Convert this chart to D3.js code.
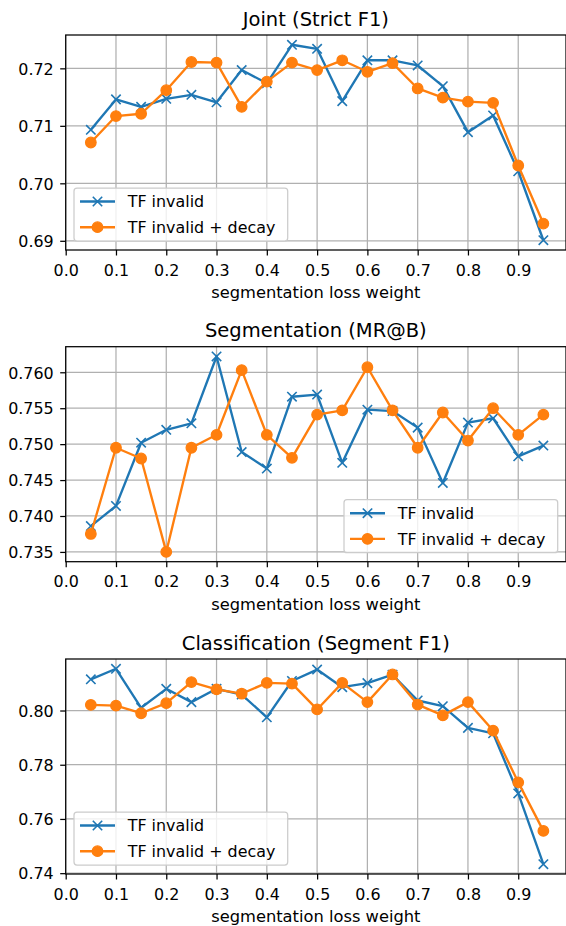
<!DOCTYPE html>
<html>
<head>
<meta charset="utf-8">
<script src="https://cdn.jsdelivr.net/npm/d3@7"></script>
<style>
  body { margin: 0; background: #fff; }
  svg text { font-family: "DejaVu Sans", sans-serif; fill: #000; }
</style>
</head>
<body>
<div id="chart"></div>
<script>
// segmentation loss weights
var weights = [0.05, 0.10, 0.15, 0.20, 0.25, 0.30, 0.35, 0.40, 0.45, 0.50,
               0.55, 0.60, 0.65, 0.70, 0.75, 0.80, 0.85, 0.90, 0.95];
var xTicks = [0.0, 0.1, 0.2, 0.3, 0.4, 0.5, 0.6, 0.7, 0.8, 0.9];
var seriesNames = ["TF invalid", "TF invalid + decay"];

// Joint (Strict F1)
var jointInvalid = [0.7093, 0.7146, 0.7133, 0.7147, 0.7154, 0.7141, 0.7197, 0.7174, 0.7241, 0.7234,
                    0.7143, 0.7214, 0.7214, 0.7205, 0.7169, 0.7089, 0.7118, 0.7021, 0.6901];
var jointDecay   = [0.7071, 0.7117, 0.7121, 0.7162, 0.7211, 0.7210, 0.7133, 0.7177, 0.7210, 0.7197,
                    0.7214, 0.7194, 0.7209, 0.7165, 0.7149, 0.7142, 0.7140, 0.7031, 0.6930];
var jointTicks = [0.69, 0.70, 0.71, 0.72];

// Segmentation (MR@B)
var segInvalid = [0.7386, 0.7414, 0.7502, 0.7520, 0.7529, 0.7622, 0.7489, 0.7466, 0.7566, 0.7569,
                  0.7474, 0.7548, 0.7546, 0.7523, 0.7446, 0.7530, 0.7536, 0.7483, 0.7498];
var segDecay   = [0.7375, 0.7495, 0.7480, 0.7350, 0.7495, 0.7513, 0.7603, 0.7513, 0.7481, 0.7541,
                  0.7547, 0.7607, 0.7547, 0.7495, 0.7544, 0.7505, 0.7550, 0.7513, 0.7541];
var segTicks = [0.735, 0.740, 0.745, 0.750, 0.755, 0.760];

// Classification (Segment F1)
var clsInvalid = [0.8115, 0.8154, 0.8010, 0.8080, 0.8031, 0.8080, 0.8059, 0.7975, 0.8109, 0.8151,
                  0.8086, 0.8101, 0.8132, 0.8037, 0.8016, 0.7936, 0.7916, 0.7694, 0.7433];
var clsDecay   = [0.8021, 0.8018, 0.7990, 0.8027, 0.8105, 0.8078, 0.8062, 0.8102, 0.8099, 0.8004,
                  0.8102, 0.8031, 0.8133, 0.8022, 0.7982, 0.8031, 0.7926, 0.7735, 0.7556];
var clsTicks = [0.74, 0.76, 0.78, 0.80];

var panels = [
    { title: "Joint (Strict F1)", a: jointInvalid, b: jointDecay, ticks: jointTicks, fmt: ".2f", top: 35, legend: "left" },
    { title: "Segmentation (MR@B)", a: segInvalid, b: segDecay, ticks: segTicks, fmt: ".3f", top: 346.7, legend: "right" },
    { title: "Classification (Segment F1)", a: clsInvalid, b: clsDecay, ticks: clsTicks, fmt: ".2f", top: 659, legend: "left" }
];

var width = 566, height = 926;
var left = 65.7, right = 566, plotH = 215;
var blue = "#1f77b4", orange = "#ff7f0e";
var fs = 15.9;

var svg = d3.select("#chart").append("svg")
    .attr("width", width)
    .attr("height", height);

var x = d3.scaleLinear().domain([0, 0.995]).range([left, right]);

var drawMarker = function (g, kind, cx, cy) {
    if (kind === "x") {
        var s = 4.7;
        g.append("path")
            .attr("d", "M" + (cx - s) + "," + (cy - s) + "L" + (cx + s) + "," + (cy + s) +
                       "M" + (cx - s) + "," + (cy + s) + "L" + (cx + s) + "," + (cy - s))
            .attr("stroke", blue).attr("stroke-width", 1.6).attr("fill", "none");
    } else {
        g.append("circle").attr("cx", cx).attr("cy", cy).attr("r", 5.3)
            .attr("fill", orange).attr("stroke", orange).attr("stroke-width", 1.2);
    }
};

panels.forEach(function (p) {
    var top = p.top, bottom = top + plotH;
    var all = p.a.concat(p.b);
    var lo = d3.min(all), hi = d3.max(all), pad = (hi - lo) * 0.05;
    var y = d3.scaleLinear().domain([lo - pad, hi + pad]).range([bottom, top]);

    var g = svg.append("g");
    var clipId = "clip" + Math.round(top);
    svg.append("clipPath").attr("id", clipId)
        .append("rect").attr("x", left).attr("y", top).attr("width", right - left).attr("height", plotH);

    // grid
    var grid = g.append("g").attr("clip-path", "url(#" + clipId + ")");
    grid.selectAll(".gx").data(xTicks).enter().append("line")
        .attr("x1", function (d) { return x(d); }).attr("x2", function (d) { return x(d); })
        .attr("y1", top).attr("y2", bottom)
        .attr("stroke", "#b0b0b0").attr("stroke-width", 1.25);
    grid.selectAll(".gy").data(p.ticks).enter().append("line")
        .attr("x1", left).attr("x2", right)
        .attr("y1", function (d) { return y(d); }).attr("y2", function (d) { return y(d); })
        .attr("stroke", "#b0b0b0").attr("stroke-width", 1.25);

    // lines + markers
    var line = d3.line().x(function (d, i) { return x(weights[i]); }).y(function (d) { return y(d); });
    var plot = g.append("g");
    plot.append("path").datum(p.a).attr("d", line)
        .attr("fill", "none").attr("stroke", blue).attr("stroke-width", 2.35).attr("stroke-linejoin", "round");
    p.a.forEach(function (v, i) { drawMarker(plot, "x", x(weights[i]), y(v)); });
    plot.append("path").datum(p.b).attr("d", line)
        .attr("fill", "none").attr("stroke", orange).attr("stroke-width", 2.35).attr("stroke-linejoin", "round");
    p.b.forEach(function (v, i) { drawMarker(plot, "o", x(weights[i]), y(v)); });

    // axes
    var xAxis = g.append("g").attr("transform", "translate(0," + bottom + ")")
        .call(d3.axisBottom(x).tickValues(xTicks).tickFormat(d3.format(".1f")).tickSize(5.5).tickPadding(4));
    var yAxis = g.append("g").attr("transform", "translate(" + left + ",0)")
        .call(d3.axisLeft(y).tickValues(p.ticks).tickFormat(d3.format(p.fmt)).tickSize(5.5).tickPadding(6.5));
    [xAxis, yAxis].forEach(function (ax) {
        ax.select(".domain").remove();
        ax.selectAll("line").attr("stroke", "#000").attr("stroke-width", 1.25);
        ax.selectAll("text").attr("font-size", fs).attr("font-family", "DejaVu Sans").attr("fill", "#000");
    });
    xAxis.selectAll("text").attr("dy", null).attr("y", 25.7);
    yAxis.selectAll("text").attr("dy", "0.36em");

    // frame
    g.append("rect").attr("x", left).attr("y", top).attr("width", right - left).attr("height", plotH)
        .attr("fill", "none").attr("stroke", "#000").attr("stroke-width", 1.25);

    // titles
    g.append("text").attr("x", (left + right) / 2).attr("y", top - 9.5)
        .attr("text-anchor", "middle").attr("font-size", 19.5).text(p.title);
    g.append("text").attr("x", (left + right) / 2).attr("y", bottom + 48)
        .attr("text-anchor", "middle").attr("font-size", 16.3).text("segmentation loss weight");

    // legend
    var boxW = 213.7, boxH = 53;
    var bx = p.legend === "left" ? left + 8.3 : right - 8.3 - boxW;
    var by = bottom - 9 - boxH;
    var lg = g.append("g");
    lg.append("rect").attr("x", bx).attr("y", by).attr("width", boxW).attr("height", boxH)
        .attr("rx", 3).attr("fill", "#fff").attr("fill-opacity", 0.8)
        .attr("stroke", "#cccccc").attr("stroke-width", 1.25);
    seriesNames.forEach(function (name, i) {
        var cy = by + 13.5 + i * 25.7;
        var col = i === 0 ? blue : orange;
        lg.append("line").attr("x1", bx + 6).attr("x2", bx + 41).attr("y1", cy).attr("y2", cy)
            .attr("stroke", col).attr("stroke-width", 2.35);
        drawMarker(lg, i === 0 ? "x" : "o", bx + 23.5, cy);
        lg.append("text").attr("x", bx + 53.7).attr("y", cy).attr("dy", "0.36em")
            .attr("font-size", fs).text(name);
    });
});
</script>
</body>
</html>
